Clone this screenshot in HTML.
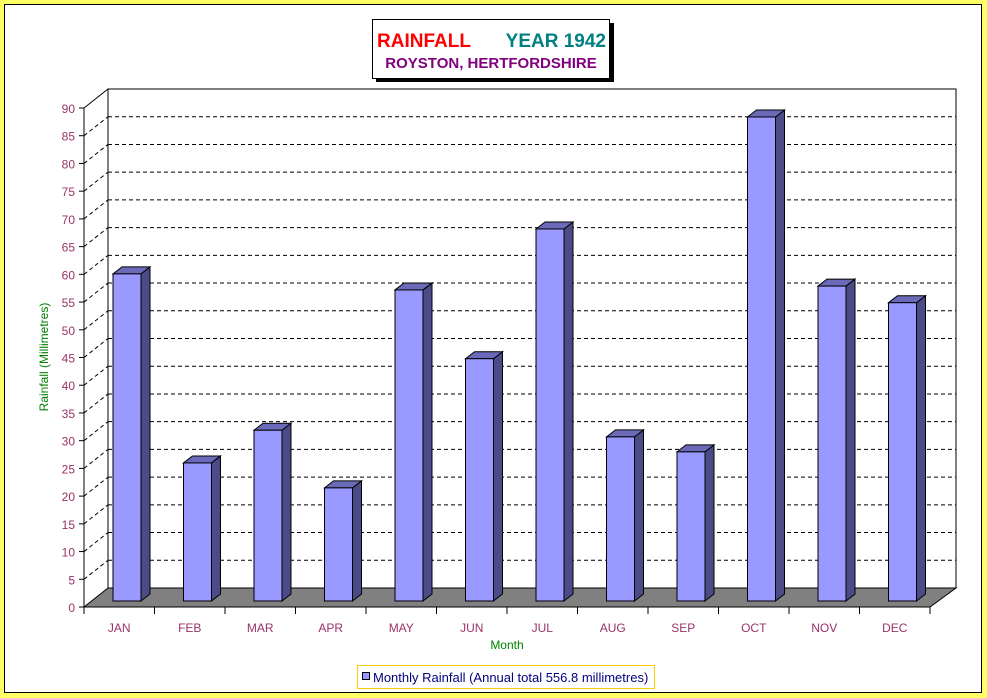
<!DOCTYPE html>
<html><head><meta charset="utf-8"><style>
html,body{margin:0;padding:0;background:#ffff66;}
body{width:987px;height:698px;position:relative;overflow:hidden;font-family:"Liberation Sans",sans-serif;}
#frame{position:absolute;left:4px;top:4px;width:976px;height:687px;background:#fff;border:1px solid #000;}
</style></head><body>
<div id="frame"></div>
<svg id="chart" width="987" height="698" style="position:absolute;left:0;top:0"></svg>
<script>
const categories=["JAN","FEB","MAR","APR","MAY","JUN","JUL","AUG","SEP","OCT","NOV","DEC"];
const rainfall=[59.0,24.9,30.8,20.4,56.1,43.7,67.1,29.6,26.9,87.3,56.8,53.8];
const yTicks=[0,5,10,15,20,25,30,35,40,45,50,55,60,65,70,75,80,85,90];
const yMax=90;

const svg=document.getElementById('chart');
const NS='http://www.w3.org/2000/svg';
function mk(tag,attrs,parent){const e=document.createElementNS(NS,tag);for(const k in attrs)e.setAttribute(k,attrs[k]);(parent||svg).appendChild(e);return e;}
const X0=84,X1=930,Y0=607,YT=108,DX=24,DY=-19;
const yFront=v=>Y0-(v/yMax)*(Y0-YT);
const catW=(X1-X0)/categories.length;
const xCat=i=>X0+i*catW;

// back wall
mk('polygon',{points:`${X0+DX},${Y0+DY} ${X0+DX},${YT+DY} ${X1+DX+2},${YT+DY} ${X1+DX+2},${Y0+DY}`,fill:'#fff',stroke:'#000','stroke-width':1,});
// grid lines
yTicks.forEach(t=>{
  if(t===0)return;
  const yf=yFront(t);
  const g=mk('g',{});
  
  
  if(t<yMax) mk('line',{x1:X0+DX,y1:yf+DY,x2:X1+DX+2,y2:yf+DY,stroke:'#000','stroke-dasharray':'4,3'},g);
  mk('line',{x1:X0,y1:yf,x2:X0+DX,y2:yf+DY,stroke:'#000','stroke-dasharray':t<yMax?'4,3':'none'},g);
});
// floor
mk('polygon',{points:`${X0},${Y0} ${X0+DX},${Y0+DY} ${X1+DX+2},${Y0+DY} ${X1},${Y0}`,fill:'#808080',stroke:'#000','stroke-width':1,});
// axes
mk('line',{x1:X0,y1:YT,x2:X0,y2:Y0,stroke:'#000',});
mk('line',{x1:X0,y1:Y0,x2:X1,y2:Y0,stroke:'#000',});
// y ticks
yTicks.forEach(t=>{
  const y=yFront(t);
  const l=mk('line',{x1:X0-5,y1:y,x2:X0,y2:y,stroke:'#000'});
  
  
  const tx=mk('text',{x:X0-9,y:y+5,'text-anchor':'end','font-size':12,fill:'#993366'});
  tx.textContent=t;
  
  
});
// x ticks
for(let i=0;i<=categories.length;i++){
  const l=mk('line',{x1:xCat(i),y1:Y0,x2:xCat(i),y2:Y0+7,stroke:'#000'});
  
  
}
// bars
const bw=28,bo=29,bdx=9,bdy=-7,lift=6;
rainfall.forEach((v,i)=>{
  const x=xCat(i)+bo, yb=Y0-lift, yt=yb-(v/yMax)*(Y0-YT);
  const g=mk('g',{});
  
  
  mk('polygon',{points:`${x+bw},${yb} ${x+bw+bdx},${yb+bdy} ${x+bw+bdx},${yt+bdy} ${x+bw},${yt}`,fill:'#4b4b87',stroke:'#000'},g);
  mk('polygon',{points:`${x},${yt} ${x+bdx},${yt+bdy} ${x+bw+bdx},${yt+bdy} ${x+bw},${yt}`,fill:'#6a6ab8',stroke:'#000'},g);
  mk('rect',{x:x,y:yt,width:bw,height:yb-yt,fill:'#9999ff',stroke:'#000'},g);
  const tx=mk('text',{x:xCat(i)+catW/2,y:Y0+25,'text-anchor':'middle','font-size':12,fill:'#993366'});
  tx.textContent=categories[i];
  
  
});
</script>
<svg width="987" height="698" style="position:absolute;left:0;top:0">
<text x="507" y="649" text-anchor="middle" font-size="12" fill="#008000" font-family="Liberation Sans,sans-serif">Month</text>
<text transform="translate(48,357) rotate(-90)" text-anchor="middle" font-size="12" fill="#008000" font-family="Liberation Sans,sans-serif">Rainfall  (Millimetres)</text>
<rect x="376" y="23" width="238" height="59" fill="#000"/>
<rect x="372.5" y="19.5" width="237" height="59" fill="#fff" stroke="#000"/>
<text x="377" y="47" font-size="19" font-weight="bold" fill="#ff0000" font-family="Liberation Sans,sans-serif">RAINFALL</text>
<text x="606" y="47" text-anchor="end" font-size="19" font-weight="bold" fill="#008080" font-family="Liberation Sans,sans-serif">YEAR 1942</text>
<text x="491" y="68" text-anchor="middle" font-size="15" font-weight="bold" fill="#800080" font-family="Liberation Sans,sans-serif">ROYSTON, HERTFORDSHIRE</text>
<rect x="357.5" y="665.5" width="297" height="23" fill="#fff" stroke="#ffcc00"/>
<rect x="362.5" y="672.5" width="7" height="7" fill="#9999ff" stroke="#000"/>
<text x="373" y="682" font-size="13" fill="#000080" font-family="Liberation Sans,sans-serif">Monthly Rainfall (Annual total 556.8 millimetres)</text>
</svg>
</body></html>
